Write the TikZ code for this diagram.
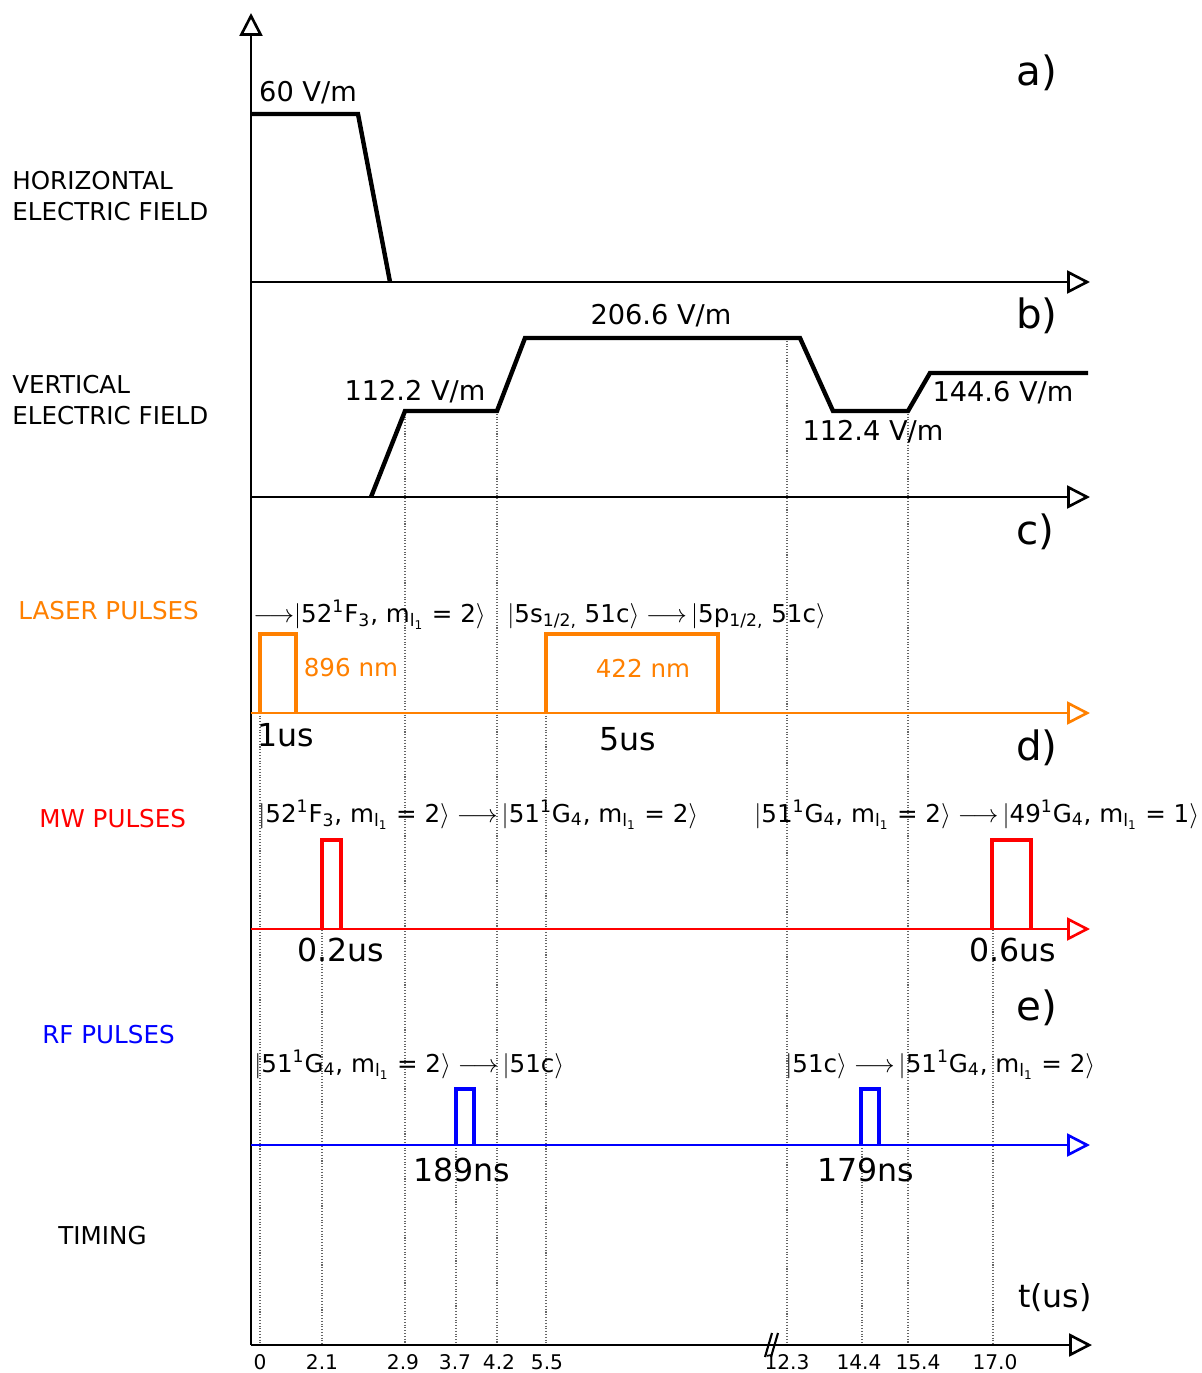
\documentclass[tikz,border=0pt]{standalone}
\usepackage{fontspec}
\setmainfont{DejaVu Sans}
\usepackage{tikz}
\usetikzlibrary{arrows.meta}
\definecolor{laserorange}{RGB}{255,128,0}
\definecolor{mwred}{RGB}{255,0,0}
\definecolor{rfblue}{RGB}{0,0,255}
\tikzset{
  axisline/.style={
    line width=1.5pt,
    -{Triangle[open,length=13pt,width=13pt]}
  },
  fieldline/.style={
    line width=2.5pt,
    line join=miter
  },
  pulseline/.style={
    line width=2.4pt
  },
  guideline/.style={
    densely dotted,
    draw=black!60,
    line width=0.6pt
  },
  rowlabel/.style={
    align=left,
    anchor=west,
    inner sep=0pt,
    font=\fontsize{14}{17.5}\selectfont
  },
  valuelabel/.style={
    inner sep=0pt,
    font=\fontsize{15.5}{18}\selectfont
  },
  colourlabel/.style={
    inner sep=0pt,
    font=\fontsize{14}{17}\selectfont
  },
  widthlabel/.style={
    inner sep=0pt,
    font=\fontsize{18}{21}\selectfont
  },
  statelabel/.style={
    anchor=base west,
    inner sep=0pt,
    font=\fontsize{14}{17}\selectfont
  },
  panellabel/.style={
    inner sep=0pt,
    font=\fontsize{23}{27}\selectfont
  },
  ticklabel/.style={
    inner sep=0pt,
    font=\fontsize{11.5}{13}\selectfont
  }
}
\newcommand{\ketlbl}[1]{$\Bigl|$#1$\Bigr\rangle$}
\newcommand{\mlone}{m\textsubscript{l\textsubscript{1}}}
\newcommand{\goesto}{\;$\longrightarrow$\,}

\begin{document}
\begin{tikzpicture}[x=0.02cm, y=-0.02cm]
\useasboundingbox (0,0) rectangle (1202,1373);

% axis end points
\coordinate (top) at (251,13);
\coordinate (hfield0) at (251,282);   \coordinate (hfield1) at (1090,282);
\coordinate (vfield0) at (251,497);   \coordinate (vfield1) at (1090,497);
\coordinate (laser0) at (251,713);    \coordinate (laser1) at (1090,713);
\coordinate (mw0) at (251,929);       \coordinate (mw1) at (1090,929);
\coordinate (rf0) at (251,1145);      \coordinate (rf1) at (1090,1145);
\coordinate (time0) at (251,1345);    \coordinate (time1) at (1092,1345);

% dotted time markers
\draw[guideline] (260,634) -- (260,1345);
\draw[guideline] (322,840) -- (322,1345);
\draw[guideline] (405,411) -- (405,1345);
\draw[guideline] (456,1089) -- (456,1345);
\draw[guideline] (497,411) -- (497,1345);
\draw[guideline] (546,634) -- (546,1345);
\draw[guideline] (787,338) -- (787,1345);
\draw[guideline] (862,1089) -- (862,1345);
\draw[guideline] (908,411) -- (908,1345);
\draw[guideline] (993,840) -- (993,1345);

% axes
\draw[axisline] (time0) -- (top);
\draw[axisline] (hfield0) -- (hfield1);
\draw[axisline] (vfield0) -- (vfield1);
\draw[axisline, draw=laserorange] (laser0) -- (laser1);
\draw[axisline, draw=mwred] (mw0) -- (mw1);
\draw[axisline, draw=rfblue] (rf0) -- (rf1);
\draw[axisline] (time0) -- (time1);
\draw[line width=1.2pt] (765,1357) -- (772,1333);
\draw[line width=1.2pt] (771,1357) -- (778,1333);

% field ramps
\draw[fieldline] (251,114) -- (358,114) -- (390,282);
\draw[fieldline] (371,497) -- (405,411) -- (497,411) -- (525,338) -- (800,338)
  -- (833,411) -- (908,411) -- (930,373) -- (1088,373);

% pulses
\draw[pulseline, laserorange] (260,713) -- (260,634) -- (296,634) -- (296,713);
\draw[pulseline, laserorange] (546,713) -- (546,634) -- (718,634) -- (718,713);
\draw[pulseline, mwred] (322,929) -- (322,840) -- (341,840) -- (341,929);
\draw[pulseline, mwred] (992,929) -- (992,840) -- (1031,840) -- (1031,929);
\draw[pulseline, rfblue] (456,1145) -- (456,1089) -- (474,1089) -- (474,1145);
\draw[pulseline, rfblue] (861,1145) -- (861,1089) -- (879,1089) -- (879,1145);

% row names
\node[rowlabel] (hname) at (12,196) {HORIZONTAL\\ELECTRIC FIELD};
\node[rowlabel] (vname) at (12,400) {VERTICAL\\ELECTRIC FIELD};
\node[rowlabel, text=laserorange] (lasername) at (18,611) {LASER PULSES};
\node[rowlabel, text=mwred] (mwname) at (39,819) {MW PULSES};
\node[rowlabel, text=rfblue] (rfname) at (42,1035) {RF PULSES};
\node[rowlabel] (timename) at (58,1236) {TIMING};

% panel letters
\node[panellabel] (pa) at (1037,73) {a)};
\node[panellabel] (pb) at (1037,316) {b)};
\node[panellabel] (pc) at (1035,532) {c)};
\node[panellabel] (pd) at (1037,748) {d)};
\node[panellabel] (pe) at (1037,1008) {e)};

% field values
\node[valuelabel] (hval) at (308,93) {60 V/m};
\node[valuelabel] (vval1) at (415,392) {112.2 V/m};
\node[valuelabel] (vval2) at (661,316) {206.6 V/m};
\node[valuelabel] (vval3) at (873,432) {112.4 V/m};
\node[valuelabel] (vval4) at (1003,393) {144.6 V/m};

% wavelengths and durations
\node[colourlabel, text=laserorange] (wl1) at (351,668) {896 nm};
\node[colourlabel, text=laserorange] (wl2) at (643,668) {422 nm};
\node[widthlabel] (dur1) at (286,735) {1us};
\node[widthlabel] (dur2) at (628,739) {5us};
\node[widthlabel] (dur3) at (341,950) {0.2us};
\node[widthlabel] (dur4) at (1013,950) {0.6us};
\node[widthlabel] (dur5) at (462,1170) {189ns};
\node[widthlabel] (dur6) at (866,1170) {179ns};
\node[widthlabel] (tunit) at (1055,1298) {t(us)};

% transitions
\node[statelabel] (lstate1) at (253,622)
  {$\longrightarrow$\ketlbl{52\textsuperscript{1}F\textsubscript{3}, \mlone{} = 2}};
\node[statelabel] (lstate2) at (507,622)
  {\ketlbl{5s\textsubscript{1/2,} 51c}\goesto\ketlbl{5p\textsubscript{1/2,} 51c}};
\node[statelabel] (mstate1) at (258,822)
  {\ketlbl{52\textsuperscript{1}F\textsubscript{3}, \mlone{} = 2}\goesto\ketlbl{51\textsuperscript{1}G\textsubscript{4}, \mlone{} = 2}};
\node[statelabel] (mstate2) at (754,822)
  {\ketlbl{51\textsuperscript{1}G\textsubscript{4}, \mlone{} = 2}\goesto\ketlbl{49\textsuperscript{1}G\textsubscript{4}, \mlone{} = 1}};
\node[statelabel] (rstate1) at (254,1072)
  {\ketlbl{51\textsuperscript{1}G\textsubscript{4}, \mlone{} = 2}\goesto\ketlbl{51c}};
\node[statelabel] (rstate2) at (785,1072)
  {\ketlbl{51c}\goesto\ketlbl{51\textsuperscript{1}G\textsubscript{4}, \mlone{} = 2}};

% time ticks
\node[ticklabel] (t0) at (260,1362) {0};
\node[ticklabel] (t1) at (322,1362) {2.1};
\node[ticklabel] (t2) at (403,1362) {2.9};
\node[ticklabel] (t3) at (455,1362) {3.7};
\node[ticklabel] (t4) at (499,1362) {4.2};
\node[ticklabel] (t5) at (547,1362) {5.5};
\node[ticklabel] (t6) at (787,1362) {12.3};
\node[ticklabel] (t7) at (859,1362) {14.4};
\node[ticklabel] (t8) at (918,1362) {15.4};
\node[ticklabel] (t9) at (995,1362) {17.0};
\end{tikzpicture}
\end{document}
